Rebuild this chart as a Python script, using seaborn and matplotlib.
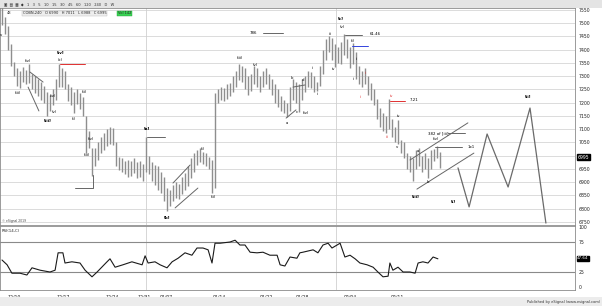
import numpy as np
import pandas as pd
import matplotlib
matplotlib.use("Agg")
import matplotlib.pyplot as plt
import seaborn as sns
from matplotlib.patches import Rectangle

# ---------------- data ----------------
bar_high = [7565, 7525, 7490, 7420, 7355, 7330, 7320, 7335, 7325, 7345,
            7310, 7300, 7290, 7280, 7265, 7240, 7230, 7250, 7290, 7345,
            7330, 7320, 7270, 7260, 7240, 7250, 7235, 7220, 7150, 7095,
            7030, 7030, 7050, 7070, 7085, 7100, 7110, 7105, 7050, 6995,
            6990, 6980, 6985, 6980, 6990, 6975, 6980, 6970, 7070, 7000,
            6975, 6965, 6960, 6940, 6920, 6880, 6870, 6890, 6900, 6895,
            6920, 6935, 6960, 6990, 7010, 7020, 7030, 7015, 7010, 6995,
            6985, 7235, 7250, 7260, 7255, 7270, 7275, 7300, 7320, 7345,
            7340, 7330, 7300, 7310, 7340, 7330, 7300, 7320, 7330, 7310,
            7290, 7270, 7250, 7225, 7210, 7200, 7260, 7290, 7280, 7270,
            7290, 7300, 7320, 7315, 7300, 7280, 7340, 7400, 7440, 7450,
            7445, 7420, 7410, 7430, 7460, 7440, 7410, 7425, 7390, 7340,
            7320, 7330, 7300, 7275, 7250, 7215, 7180, 7160, 7150, 7215,
            7140, 7110, 7135, 7060, 7050, 7010, 7000, 6990, 7020, 7030,
            7000, 7010, 6990, 7020, 7025, 7035, 7015]
bar_low = [7495, 7460, 7400, 7340, 7300, 7265, 7255, 7280, 7270, 7275,
           7250, 7235, 7225, 7210, 7200, 7150, 7170, 7190, 7210, 7260,
           7260, 7250, 7205, 7190, 7160, 7195, 7175, 7150, 7010, 7030,
           6925, 6960, 6985, 7010, 7020, 7035, 7045, 7040, 6960, 6945,
           6940, 6930, 6920, 6925, 6935, 6915, 6920, 6905, 6940, 6930,
           6905, 6890, 6870, 6860, 6830, 6790, 6810, 6830, 6840, 6835,
           6855, 6870, 6885, 6915, 6940, 6965, 6975, 6970, 6960, 6950,
           6860, 6880, 7200, 7210, 7205, 7215, 7225, 7240, 7260, 7285,
           7280, 7250, 7230, 7245, 7270, 7260, 7240, 7260, 7270, 7250,
           7230, 7200, 7185, 7170, 7160, 7145, 7170, 7210, 7200, 7165,
           7210, 7240, 7260, 7255, 7240, 7245, 7265, 7310, 7360, 7390,
           7360, 7335, 7350, 7345, 7380, 7370, 7330, 7345, 7290, 7270,
           7260, 7270, 7230, 7210, 7190, 7140, 7110, 7095, 7085, 7100,
           7070, 7050, 7045, 7010, 6990, 6950, 6940, 6905, 6950, 6960,
           6940, 6950, 6915, 6950, 6980, 6990, 6955]

rsi_bar = [0, 1.7, 3.3, 6, 8.3, 10, 12.7, 16, 17.7, 18.7, 20.3, 21, 23.3, 26,
           27.7, 30, 31.7, 35, 36, 37.7, 40.3, 43.3, 46.7, 47.7, 48.7, 51,
           52.7, 55, 56.7, 58.7, 61, 63.3, 65, 67, 68.7, 70, 71, 72.7, 76,
           77.7, 79.3, 81, 82.7, 85, 87, 89.3, 91.7, 92.7, 94.3, 96, 98.3,
           99.3, 100.3, 103.7, 105.3, 107, 108.7, 110, 112.7, 114.3, 116,
           117.7, 119.3, 121.7, 123.7, 125.3, 127, 128.7, 129.3, 130.3, 132,
           133.7, 136, 137.7, 138.7, 140.3, 142, 143.7, 145.3]
rsi_value = [45, 37, 23, 23, 20, 32, 28, 25, 28, 57, 57, 40, 42, 40,
             28, 17, 25, 42, 47, 33, 37, 42, 37, 52, 40, 42,
             37, 32, 42, 48, 57, 53, 65, 65, 62, 40, 73, 73, 75,
             78, 70, 70, 58, 57, 58, 53, 53, 37, 35, 50, 48,
             57, 58, 62, 57, 70, 73, 65, 73, 50, 53,
             47, 40, 37, 33, 25, 17, 18, 40, 28, 33,
             25, 25, 23, 40, 42, 40, 50, 47]

proj_bar = [152, 155.7, 161.7, 168.7, 176, 181.3]
proj_price = [6954, 6807, 7082, 6882, 7180, 6746]

date_labels = ["12/10", "12/17", "12/24", "12/31", "01/07", "01/14",
               "01/22", "01/28", "02/04", "02/11"]
date_pos = [4, 20.3, 36.7, 47.3, 54.7, 72.3, 88.3, 100.3, 116, 131.7]
month_breaks = [48, 111.3]

price_ticks = list(range(6750, 7551, 50))
rsi_ticks = [0, 25, 75, 100]
last_price = 6995
last_rsi = 47.64

# ---------------- figure ----------------
sns.set_style("white")
plt.rcParams["font.family"] = ["DejaVu Sans"]

W, H = 602, 306
fig = plt.figure(figsize=(W / 100, H / 100), dpi=100)


def rect(l, t, r, b):
    return [l / W, 1 - b / H, (r - l) / W, (b - t) / H]


ax = fig.add_axes(rect(0, 8, 575, 225))
ax2 = fig.add_axes(rect(0, 226, 575, 290), sharex=ax)

# toolbar & footer strips
fig.patches.append(Rectangle((0, 1 - 8 / H), 1, 8 / H, transform=fig.transFigure,
                             facecolor="#e4e4e4", edgecolor="none", zorder=0))
fig.patches.append(Rectangle((0, 0), 1, 9 / H, transform=fig.transFigure,
                             facecolor="#ececec", edgecolor="none", zorder=0))
fig.text(4 / W, 1 - 4 / H, "\u25A3  \u25A4  \u25A6  \u25C6   1   3   5   10   15   30   45   60   120   240   D   W",
         fontsize=2.6, va="center", color="#333")
fig.text(0.997, 4 / H, "Published by eSignal (www.esignal.com)", ha="right",
         va="center", fontsize=2.6, color="#333")

# ---------------- price bars ----------------
df = pd.DataFrame({"bar": np.arange(len(bar_high)), "high": bar_high, "low": bar_low})
ax.vlines(df["bar"], df["low"], df["high"], color="#8e8e8e", lw=1.0, zorder=3)

# projected path
sns.lineplot(x=proj_bar, y=proj_price, ax=ax, color="#6a6a6a", lw=0.9,
             sort=False, estimator=None, zorder=3)

x0, x1 = -0.667, 191
ax.set_xlim(x0, x1)
ax.set_ylim(6738.6, 7557.5)
ax.yaxis.tick_right()
ax.set_yticks(price_ticks)
ax.tick_params(axis="y", labelsize=3.3, length=0, pad=2.5, colors="#222")
ax.tick_params(axis="x", length=0, labelbottom=False)
ax.grid(True, axis="y", color="#d6d6d6", lw=0.6)
ax.grid(False, axis="x")
for mb in month_breaks:
    ax.axvline(mb, color="#d0d0d0", lw=0.6, zorder=1)
    ax2.axvline(mb, color="#d0d0d0", lw=0.6, zorder=1)
for s in ax.spines.values():
    s.set_color("#8a8a8a")
    s.set_linewidth(0.6)

# header row
ax.text(0.012, 0.985, "48", transform=ax.transAxes, fontsize=2.6, va="top")
hdr = "COBN,240   O 6990   H 7011   L 6988   C 6995"
ax.text(0.04, 0.985, hdr, transform=ax.transAxes, fontsize=2.6, va="top",
        bbox=dict(boxstyle="square,pad=0.15", fc="#eeeeee", ec="#bbbbbb", lw=0.3))
ax.text(0.205, 0.985, "Vol 142", transform=ax.transAxes, fontsize=2.6, va="top",
        bbox=dict(boxstyle="square,pad=0.15", fc="#39d353", ec="#2a9a3c", lw=0.3))
ax.text(0.003, 0.012, "\u00a9 eSignal 2019", transform=ax.transAxes, fontsize=2.2, color="#444")

# current price box
ax.text(1.004, last_price, f"{last_price}", transform=ax.get_yaxis_transform(),
        fontsize=3.3, color="white", va="center", ha="left",
        bbox=dict(boxstyle="square,pad=0.15", fc="black", ec="black"))

# annotation lines
seg_kw = dict(lw=0.7, zorder=4)
lines = [
    ((19.3, 27.7), (7346, 7346), "#e03030"),
    ((9.3, 13.7), (7316, 7278), "#666"),
    ((8.7, 12.3), (7259, 7169), "#666"),
    ((48.3, 54.3), (7071, 7071), "#666"),
    ((24.3, 30.3, 30.3), (6878, 6878, 6927), "#666"),
    ((57, 62.7), (6897, 6965), "#666"),
    ((57.7, 65.3), (6803, 6878), "#666"),
    ((94.7, 98), (7142, 7173), "#666"),
    ((97, 101), (7259, 7267), "#666"),
    ((87, 93.7), (7463, 7463), "#666"),
    ((114.3, 120), (7456, 7456), "#666"),
    ((116.7, 122), (7414, 7414), "#3344dd"),
    ((129.3, 134.3), (7207, 7207), "#e03030"),
    ((136, 155.3), (6984, 7124), "#666"),
    ((138.3, 157.3), (6874, 7010), "#666"),
    ((148.7, 154.3), (7086, 7086), "#666"),
    ((144.3, 153.3), (7033, 7033), "#666"),
]
for xs, ys, c in lines:
    ax.plot(xs, ys, color=c, **seg_kw)

labels = [
    ("v", -0.2, 7455, "k"), ("(iii)", 5.3, 7237, "k"), ("(iv)", 8.7, 7358, "k"),
    ("[iii]", 15.3, 7131, "k"), ("(iv)", 17, 7225, "k"), ("(v)", 17.3, 7165, "k"),
    ("[iv]", 19.3, 7388, "k"), ("(c)", 19.3, 7361, "k"), ("(i)", 24, 7139, "k"),
    ("(ii)", 27.3, 7240, "k"), ("(iv)", 29.7, 7063, "k"), ("(iii)", 28.3, 7003, "k"),
    ("[a]", 48.3, 7101, "k"), ("[b]", 55, 6765, "k"), ("(i)", 67, 7025, "k"),
    ("(ii)", 70.3, 6844, "k"), ("(iii)", 79.3, 7369, "k"), ("(v)", 84.3, 7342, "k"),
    ("786", 83.7, 7463, "k"), ("a", 95, 7124, "k"), ("b", 96.7, 7293, "k"),
    ("c", 98.3, 7165, "k"), ("d", 100.3, 7286, "k"), ("(iv)", 101.3, 7161, "k"),
    ("i", 103.3, 7331, "k"), ("ii", 105.3, 7233, "k"), ("iii", 109.3, 7459, "k"),
    ("iv", 110.3, 7327, "k"), ("[c]", 112.7, 7516, "k"), ("(v)", 113.3, 7486, "k"),
    ("61.46", 122.5, 7459, "k"), ("(i)", 117, 7433, "k"), ("i", 117, 7290, "k"),
    ("ii", 118.3, 7365, "k"), ("i", 121, 7312, "#e03030"), ("ii", 119.7, 7222, "#e03030"),
    ("iv", 129.7, 7225, "#e03030"), ("iii", 128.3, 7071, "#e03030"),
    ("7.21", 136, 7210, "k"), ("iv", 132, 7150, "k"), ("v", 131.7, 7033, "k"),
    ("a", 138.7, 7018, "k"), ("b", 142, 6901, "k"), ("[iii]", 137.7, 6844, "k"),
    ("(iv)", 144.7, 7063, "k"), ("382 of [iii]", 145.3, 7086, "k"),
    ("1x1", 155.3, 7033, "k"), ("[i]", 150.3, 6825, "k"), ("[ii]", 175.3, 7222, "k"),
]
for t, bx, py, c in labels:
    ha = "left" if t in ("61.46", "7.21", "1x1") else "center"
    ax.text(bx, py, t, fontsize=2.8, color=c, ha=ha, va="center", zorder=5,
            fontweight="bold" if t.startswith("[") else "normal")

# ---------------- RSI panel ----------------
sns.lineplot(x=rsi_bar, y=rsi_value, ax=ax2, color="#1a1a1a", lw=0.8,
             sort=False, estimator=None, zorder=3)
ax2.set_ylim(-5, 101.7)
ax2.yaxis.tick_right()
ax2.set_yticks(rsi_ticks)
ax2.tick_params(axis="y", labelsize=3.3, length=0, pad=2.5, colors="#222")
for lvl in (25, 75):
    ax2.axhline(lvl, color="#8a8a8a", lw=0.8, zorder=2)
ax2.set_xticks(date_pos)
ax2.set_xticklabels(date_labels)
ax2.tick_params(axis="x", labelsize=3.3, length=2, width=0.4, pad=1.5, colors="#222")
ax2.set_xlabel("")
ax2.set_ylabel("")
for s in ax2.spines.values():
    s.set_color("#8a8a8a")
    s.set_linewidth(0.6)
ax2.text(0.003, 0.96, "RSI(14,C)", transform=ax2.transAxes, fontsize=2.8, va="top")
ax2.text(1.004, last_rsi, f"{last_rsi:.2f}", transform=ax2.get_yaxis_transform(),
         fontsize=3.0, color="white", va="center", ha="left",
         bbox=dict(boxstyle="square,pad=0.15", fc="black", ec="black"))

fig.savefig("out.png", dpi=100)
